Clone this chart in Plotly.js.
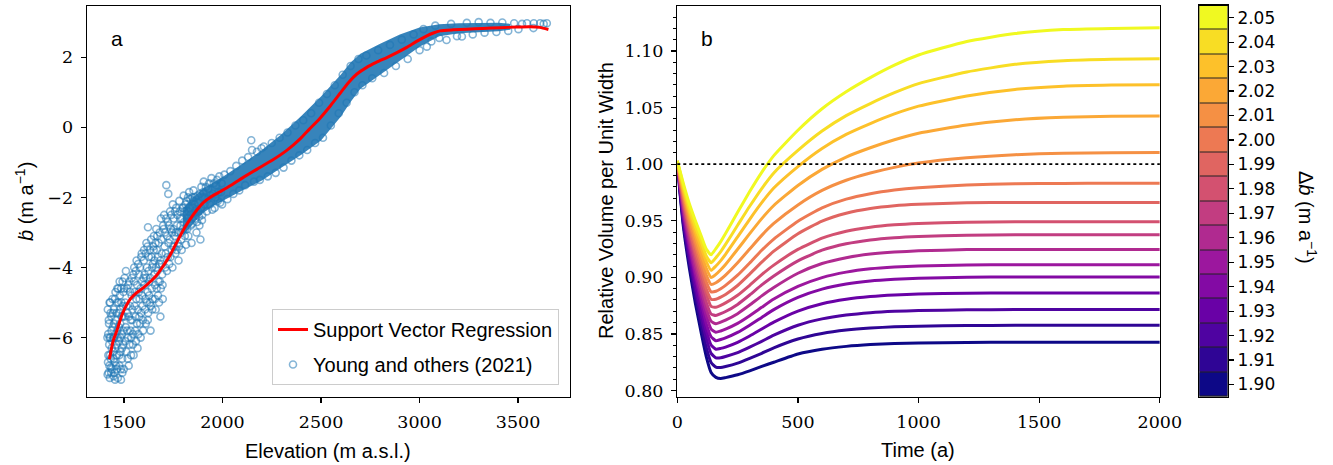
<!DOCTYPE html>
<html><head><meta charset="utf-8">
<script src="https://cdn.plot.ly/plotly-3.0.1.min.js"></script>
<style>html,body{margin:0;padding:0;background:#fff}#chart{width:1333px;height:465px}</style>
</head><body><div id="chart"></div>
<script>
// ---------- Panel a: surface mass balance vs elevation ----------
const svrElev = [1426,1445,1463,1490,1531,1565,1598,1640,1666,1700,1734,1768,1802,1836,1870,1904,1937,1990,2039,2100,2174,2250,2326,2394,2440,2495,2550,2597,2640,2682,2732,2780,2834,2885,2935,2985,3037,3070,3104,3170,3240,3320,3409,3490,3561,3610,3654];
const svrSmb  = [-6.62,-6.1,-5.82,-5.35,-4.91,-4.72,-4.58,-4.37,-4.22,-3.95,-3.65,-3.28,-2.92,-2.62,-2.36,-2.14,-2.0,-1.83,-1.67,-1.45,-1.2,-0.95,-0.66,-0.33,-0.06,0.26,0.63,0.97,1.28,1.52,1.71,1.85,1.99,2.13,2.28,2.45,2.61,2.69,2.75,2.78,2.80,2.82,2.84,2.86,2.87,2.85,2.79];

// dense core of the observation cloud (upper / lower edge)
const bandElev  = [1800,1850,1900,1950,2000,2100,2200,2300,2400,2500,2600,2650,2700,2800,2900,3000,3100,3200,3300,3400,3460];
const bandUpper = [-2.3,-2.0,-1.75,-1.58,-1.42,-1.05,-0.65,-0.2,0.32,0.88,1.5,1.85,2.1,2.38,2.65,2.85,2.94,2.97,2.98,2.98,2.95];
const bandLower = [-3.1,-2.75,-2.45,-2.25,-2.1,-1.8,-1.52,-1.15,-0.78,-0.38,0.3,0.72,1.1,1.5,1.9,2.3,2.6,2.68,2.72,2.74,2.78];

const obsElev = [
 1418,1420,1421,1422,1424,1425,1426,1428,1430,1431,1433,1435,1436,1438,1439,
 1416,1419,1423,1427,1429,1432,1434,1437,1440,1417,1427,
 1442,1444,1445,1447,1449,1451,1453,1455,1457,1459,1461,1463,1465,1467,1469,
 1443,1446,1448,1450,1452,1454,1456,1458,1460,1462,1464,1466,1468,
 1471,1473,1475,1477,1479,1481,1483,1485,1487,1489,1491,1493,1495,1497,1499,
 1472,1474,1476,1478,1480,1482,1484,1486,1488,1490,1492,1494,1496,1498,
 1503,1506,1509,1512,1515,1518,1521,1524,1527,1530,1533,1536,1539,1542,1545,1548,
 1501,1504,1507,1510,1513,1516,1519,1522,1525,1528,1531,1534,1537,1540,1543,1546,1549,
 1552,1555,1558,1561,1564,1567,1570,1573,1576,1579,1582,1585,1588,1591,1594,1597,
 1551,1554,1557,1560,1563,1566,1569,1572,1575,1578,1581,1584,1587,1590,1593,1596,1599,
 1602,1605,1608,1611,1614,1617,1620,1622,1623,1626,1629,1632,1635,1638,1641,1644,1647,
 1601,1604,1607,1610,1613,1616,1619,1621,1625,1628,1631,1634,1637,1640,1643,1646,1649,
 1652,1655,1658,1661,1664,1667,1670,1673,1676,1679,1682,1685,1688,1691,1694,1697,
 1651,1654,1657,1660,1663,1666,1669,1672,1675,1678,1681,1684,1687,1690,1693,1696,1699,
 1704,1708,1712,1715,1718,1722,1725,1726,1730,1734,1738,1742,1746,1748,
 1702,1706,1710,1714,1719,1723,1728,1732,1736,1740,1744,1749,
 1753,1757,1761,1765,1769,1773,1777,1781,1785,1789,1793,1797,
 1751,1755,1759,1763,1767,1771,1775,1779,1783,1787,1791,1795,1799,
 1803,1807,1811,1815,1819,1823,1827,1831,1835,1839,1843,1847,
 1801,1805,1809,1813,1817,1821,1825,1829,1833,1837,1841,1845,1849,
 1853,1858,1863,1868,1873,1878,1883,1888,1893,1897,
 1851,1856,1861,1866,1871,1876,1881,1886,1891,1896,1899,
 1905,1912,1920,1928,1936,1944,1952,1960,1968,1976,1984,1992,1998,
 1903,1909,1916,1924,1932,1940,1948,1956,1964,1972,1980,1988,1996,
 2010,2025,2040,2055,2070,2085,2100,2115,2130,2146,2150,2160,2175,2190,2198,
 2210,2230,2250,2270,2290,2310,2330,2350,2370,2390,2410,2430,2450,2470,2490,
 2510,2530,2550,2570,2590,2610,2630,2650,2670,2690,2710,2730,2760,2790,2820,2850,2880,2910,2940,2970,3000,
 3020,3037,3060,3080,3100,3137,3160,3190,3215,3240,3270,3300,3330,3360,3390,3420,3450,3480,3502,3520,3545,3578,3580,3612,3630,3646];
const obsSmb = [
 -5.2,-5.9,-6.5,-7.0,-5.6,-6.2,-6.8,-7.15,-5.0,-6.0,-6.6,-7.0,-5.4,-6.3,-6.9,
 -6.0,-6.7,-5.5,-6.0,-6.5,-5.3,-6.85,-5.8,-6.1,-7.05,-5.0,
 -4.9,-5.7,-6.4,-7.1,-5.2,-6.0,-6.7,-7.2,-4.7,-5.5,-6.2,-6.9,-5.0,-5.8,-7.15,
 -5.3,-6.0,-6.6,-5.6,-7.0,-4.9,-6.3,-5.9,-6.8,-5.3,-6.5,-4.6,-6.0,
 -4.6,-5.3,-6.1,-6.8,-4.8,-5.6,-6.4,-7.2,-5.0,-5.9,-6.6,-4.4,-5.4,-6.2,-6.9,
 -5.0,-5.7,-6.5,-4.4,-5.2,-6.0,-6.9,-4.6,-5.4,-6.3,-7.0,-5.1,-5.8,-4.7,
 -4.3,-5.0,-5.7,-6.4,-4.6,-5.3,-6.0,-6.8,-4.4,-5.1,-5.8,-6.5,-4.8,-5.5,-6.2,-4.2,
 -4.6,-5.4,-6.1,-4.1,-5.1,-5.8,-6.6,-4.5,-5.4,-6.2,-4.7,-5.5,-6.0,-4.3,-5.2,-5.9,-6.5,
 -4.0,-4.7,-5.4,-6.1,-3.8,-4.5,-5.2,-5.9,-4.2,-4.9,-5.6,-6.0,-3.7,-4.4,-5.1,-5.8,
 -4.4,-5.1,-5.8,-4.1,-4.9,-5.6,-6.3,-3.9,-4.7,-5.4,-4.0,-4.6,-5.3,-3.6,-4.8,-5.5,-4.3,
 -3.5,-4.2,-4.9,-5.6,-3.3,-4.0,-4.7,-2.85,-5.3,-3.7,-4.4,-5.0,-5.8,-3.2,-4.6,-5.2,-3.9,
 -3.8,-4.5,-5.2,-3.6,-4.3,-5.0,-3.4,-5.5,-4.1,-4.8,-3.5,-4.3,-5.1,-3.7,-4.0,-4.9,-3.4,
 -3.1,-3.8,-4.5,-5.2,-2.9,-3.5,-4.1,-4.8,-3.3,-3.9,-4.4,-5.4,-2.6,-3.6,-4.2,-4.9,
 -3.5,-4.2,-4.9,-3.3,-4.0,-4.6,-3.1,-3.7,-4.4,-5.0,-3.0,-3.8,-4.6,-3.2,-3.9,-4.5,-2.8,
 -2.5,-3.0,-3.6,-1.65,-4.1,-2.7,-1.9,-3.3,-3.9,-2.4,-2.9,-3.5,-4.0,-2.2,
 -2.9,-3.4,-4.0,-2.6,-3.1,-3.7,-2.8,-3.2,-3.7,-2.5,-3.0,-3.4,
 -2.6,-3.1,-3.6,-2.3,-2.8,-3.3,-3.8,-2.1,-2.6,-3.0,-3.5,-2.3,
 -2.9,-3.4,-2.4,-3.0,-3.5,-2.5,-3.0,-3.4,-2.4,-2.8,-3.2,-2.6,-2.9,
 -1.95,-2.4,-2.9,-3.35,-2.1,-2.6,-3.1,-1.85,-2.3,-2.8,-3.3,-2.0,
 -2.3,-2.7,-3.1,-2.2,-2.5,-2.9,-2.0,-2.4,-2.7,-2.05,-2.5,-2.75,-2.3,
 -1.8,-2.2,-2.6,-3.0,-1.95,-2.4,-2.8,-3.2,-1.7,-2.5,
 -2.1,-2.45,-2.0,-2.35,-2.7,-2.15,-2.55,-1.9,-2.3,-2.65,-2.0,
 -1.55,-2.0,-2.4,-1.75,-2.2,-1.45,-1.9,-2.3,-1.65,-2.1,-1.4,-1.85,-2.2,
 -1.85,-2.2,-1.7,-2.05,-1.6,-1.95,-2.35,-1.6,-2.0,-1.5,-1.85,-2.15,-1.6,
 -1.35,-2.05,-1.25,-1.9,-1.1,-1.8,-0.95,-1.65,-0.85,-0.37,-0.65,-1.55,-0.7,-1.5,-0.6,
 -0.55,-1.4,-0.45,-1.3,-0.3,-1.15,-0.15,-0.95,0.05,-0.8,0.2,-0.65,0.4,-0.45,0.7,
 -0.3,0.95,0.05,1.2,0.4,1.5,0.7,1.75,1.0,1.95,1.2,2.05,1.4,2.2,1.55,2.35,1.75,2.5,1.95,2.65,2.2,
 2.8,2.3,2.45,2.9,2.55,2.49,2.95,2.6,2.59,2.98,2.65,3.0,2.7,2.98,2.72,2.99,2.75,2.97,2.80,2.95,2.97,2.83,2.97,2.97,2.95,2.97];

// ---------- Panel b: relative volume per unit width ----------
const timeYears = [0,25,50,75,100,120,140,160,180,200,250,300,350,400,500,600,700,800,900,1000,1200,1400,1600,1800,2000];
const deltaB = [1.90,1.91,1.92,1.93,1.94,1.95,1.96,1.97,1.98,1.99,2.00,2.01,2.02,2.03,2.04,2.05];
const v190 = [1.000,.945,.908,.877,.850,.830,.8160,.8116,.8106,.8114,.8139,.8174,.8213,.8250,.8323,.8365,.8390,.8406,.8415,.8420,.8425,.8426,.8426,.8426,.8426];
const v191 = [1.000,.948,.913,.883,.857,.838,.8248,.8206,.8203,.8212,.8242,.8284,.8329,.8377,.8455,.8504,.8534,.8552,.8563,.8568,.8574,.8576,.8576,.8576,.8576];
const v192 = [1.000,.951,.917,.889,.864,.846,.8328,.8289,.8289,.8300,.8335,.8383,.8435,.8489,.8577,.8633,.8667,.8688,.8700,.8706,.8713,.8715,.8715,.8715,.8715];
const v193 = [1.001,.954,.922,.894,.870,.853,.8402,.8365,.8372,.8384,.8426,.8482,.8543,.8604,.8702,.8767,.8807,.8831,.8845,.8852,.8860,.8862,.8862,.8862,.8862];
const v194 = [1.001,.957,.926,.900,.877,.859,.8475,.8440,.8451,.8465,.8513,.8577,.8646,.8715,.8823,.8896,.8941,.8968,.8983,.8992,.9001,.9003,.9003,.9003,.9003];
const v195 = [1.001,.959,.929,.904,.882,.866,.8543,.8515,.8526,.8542,.8593,.8661,.8735,.8808,.8920,.8998,.9046,.9075,.9091,.9100,.9110,.9112,.9112,.9112,.9112];
const v196 = [1.001,.962,.933,.909,.888,.872,.8611,.8590,.8604,.8622,.8679,.8755,.8836,.8910,.9036,.9122,.9174,.9206,.9224,.9234,.9245,.9247,.9247,.9247,.9247];
const v197 = [1.002,.964,.937,.914,.894,.878,.8676,.8663,.8679,.8698,.8761,.8844,.8933,.9012,.9146,.9240,.9297,.9331,.9351,.9362,.9373,.9376,.9376,.9376,.9376];
const v198 = [1.002,.967,.941,.919,.899,.885,.8744,.8736,.8753,.8774,.8842,.8930,.9024,.9108,.9247,.9346,.9407,.9443,.9464,.9476,.9488,.9491,.9491,.9491,.9491];
const v199 = [1.002,.969,.944,.923,.905,.890,.8807,.8806,.8825,.8849,.8928,.9029,.9134,.9231,.9385,.9497,.9567,.9608,.9632,.9645,.9659,.9662,.9662,.9662,.9662];
const v200 = [1.002,.972,.948,.928,.910,.896,.8872,.8877,.8900,.8929,.9019,.9127,.9239,.9338,.9496,.9614,.9691,.9739,.9771,.9792,.9816,.9828,.9830,.9832,.9832];
const v201 = [1.002,.974,.951,.932,.915,.902,.8937,.8952,.8983,.9020,.9129,.9250,.9371,.9476,.9640,.9768,.9858,.9922,.9972,1.0010,1.0056,1.0084,1.0097,1.0101,1.0103];
const v202 = [1.002,.976,.955,.937,.920,.908,.8998,.9026,.9067,.9114,.9248,.9386,.9519,.9635,.9812,.9954,1.0063,1.0145,1.0216,1.0273,1.0346,1.0393,1.0415,1.0423,1.0426];
const v203 = [1.003,.978,.958,.941,.926,.914,.9062,.9100,.9148,.9204,.9358,.9513,.9660,.9789,.9979,1.0139,1.0263,1.0359,1.0444,1.0513,1.0603,1.0661,1.0689,1.0699,1.0703];
const v204 = [1.003,.981,.961,.945,.931,.919,.9128,.9174,.9228,.9291,.9460,.9628,.9785,.9923,1.0122,1.0293,1.0429,1.0536,1.0632,1.0712,1.0815,1.0883,1.0915,1.0928,1.0932];
const v205 = [1.003,.983,.965,.950,.936,.925,.9200,.9254,.9316,.9387,.9575,.9758,.9928,1.0076,1.030,1.049,1.064,1.0765,1.0875,1.0965,1.1085,1.1155,1.119,1.120,1.1205];
const volumes = [v190,v191,v192,v193,v194,v195,v196,v197,v198,v199,v200,v201,v202,v203,v204,v205];

// ---------- styling ----------
const plasma = [[0,'#0d0887'],[1/9,'#46039f'],[2/9,'#7201a8'],[3/9,'#9c179e'],[4/9,'#bd3786'],[5/9,'#d8576b'],[6/9,'#ed7953'],[7/9,'#fb9f3a'],[8/9,'#fdca26'],[1,'#f0f921']];
function hex2rgb(h){return [1,3,5].map(i=>parseInt(h.substr(i,2),16));}
function plasmaAt(t){
  for(let k=1;k<plasma.length;k++){
    if(t<=plasma[k][0]+1e-9){
      const a=plasma[k-1],b=plasma[k];const f=(t-a[0])/(b[0]-a[0]);
      const ca=hex2rgb(a[1]),cb=hex2rgb(b[1]);
      return 'rgb('+ca.map((c,j)=>Math.round(c+(cb[j]-c)*f)).join(',')+')';
    }
  }
  return plasma[plasma.length-1][1];
}
const bMin = deltaB[0], bMax = deltaB[deltaB.length-1];
const SERIF = "DejaVu Serif, serif";
const SANS = "Liberation Sans, DejaVu Sans, sans-serif";

const traces = [];
traces.push({x: bandElev.concat(bandElev.slice().reverse()), y: bandUpper.concat(bandLower.slice().reverse()),
  xaxis:'x', yaxis:'y', type:'scatter', mode:'lines', fill:'toself', fillcolor:'rgba(33,119,180,0.9)',
  line:{width:0}, showlegend:false, hoverinfo:'skip'});
traces.push({x: obsElev, y: obsSmb, xaxis:'x', yaxis:'y', type:'scatter', mode:'markers',
  name:'Young and others (2021)', legendrank:2, legendgroup:'g2',
  marker:{symbol:'circle-open', size:7, color:'rgba(31,119,180,0.55)', line:{width:1.6, color:'rgba(31,119,180,0.55)'}}});
traces.push({x: svrElev, y: svrSmb, xaxis:'x', yaxis:'y', type:'scatter', mode:'lines',
  name:'Support Vector Regression', legendrank:1, legendgroup:'g1',
  line:{color:'#ff0000', width:3, shape:'spline', smoothing:0.6}});

volumes.forEach((v,i)=>{
  traces.push({x: timeYears, y: v, xaxis:'x2', yaxis:'y2', type:'scatter', mode:'lines',
    line:{color: plasmaAt((deltaB[i]-bMin)/(bMax-bMin)), width:3, shape:'spline', smoothing:0.5},
    showlegend:false, hoverinfo:'skip'});
});

// discrete colour bar
traces.push({type:'heatmap', x:[0], y: deltaB, z: deltaB.map(v=>[v]), xaxis:'x3', yaxis:'y3',
  zmin:bMin, zmax:bMax, colorscale: plasma, showscale:false, ygap:1, hoverinfo:'skip'});

const H = 465, W = 1333;
const yDom = [1-396.5/H, 1-6/H];
const axBase = {showline:true, linecolor:'#000', linewidth:1.3, mirror:true, showgrid:false, zeroline:false,
  ticks:'outside', ticklen:5, tickwidth:1.2, tickcolor:'#000', ticklabelstandoff:4,
  tickfont:{family:SERIF, size:17.5, color:'#000'}};
function ann(text, x, y, angle, size){
  return {text:text, xref:'paper', yref:'paper', x:x/W, y:1-y/H, xanchor:'center', yanchor:'middle',
    textangle:angle||0, showarrow:false, font:{family:SANS, size:size||20, color:'#000'}};
}

const layout = {
  width:W, height:H, margin:{l:0,r:0,t:0,b:0}, paper_bgcolor:'#fff', plot_bgcolor:'#fff',
  showlegend:true,
  legend:{x:559/W, y:1-385/H, xanchor:'right', yanchor:'bottom', bgcolor:'rgba(255,255,255,0.9)',
    bordercolor:'#cccccc', borderwidth:1, font:{family:SANS, size:20, color:'#000'},
    traceorder:'grouped', tracegroupgap:6},
  xaxis: Object.assign({}, axBase, {domain:[86.9/W, 569.7/W], range:[1312,3762], dtick:500, tick0:0, anchor:'y'}),
  yaxis: Object.assign({}, axBase, {domain:yDom, range:[-7.68,3.46], dtick:2, tick0:0, anchor:'x'}),
  xaxis2: Object.assign({}, axBase, {domain:[677.3/W, 1159.8/W], range:[0,2000], dtick:500, tick0:0, anchor:'y2'}),
  yaxis2: Object.assign({}, axBase, {domain:yDom, range:[0.7947,1.1398], dtick:0.05, tick0:0, tickformat:'.2f', anchor:'x2',
    minor:{dtick:0.01, tick0:0, ticks:'outside', ticklen:3, tickwidth:1, tickcolor:'#000'}}),
  xaxis3: {domain:[1199.3/W, 1227.7/W], range:[-0.5,0.5], anchor:'y3', showline:true, linecolor:'#000', linewidth:1.3, mirror:true,
    showticklabels:false, ticks:'', showgrid:false, zeroline:false, fixedrange:true},
  yaxis3: {domain:[1-396.7/H, 1-5.5/H], range:[bMin-0.005, bMax+0.005], anchor:'x3', side:'right', showline:true, linecolor:'#000', linewidth:1.3, mirror:true,
    tickvals: deltaB, ticktext: deltaB.map(v=>v.toFixed(2)), ticks:'outside', ticklen:5, tickwidth:1.2, tickcolor:'#000',
    tickfont:{family:"DejaVu Sans, sans-serif", size:17, color:'#000'}, showgrid:false, zeroline:false},
  shapes:[
    {type:'rect', xref:'x3 domain', yref:'y3 domain', x0:0, x1:1, y0:0, y1:1, fillcolor:'#222', line:{width:0}, layer:'below'},
    {type:'line', xref:'x2 domain', yref:'y2', x0:0, x1:1, y0:1, y1:1, line:{color:'#000', width:1.8, dash:'dot'}}
  ],
  annotations:[
    ann('a', 117, 39, 0, 21),
    ann('b', 707, 38, 0, 21),
    ann('Elevation (m a.s.l.)', 328, 451),
    ann('<i>ḃ</i> (m a<sup>−1</sup>)', 25, 202, -90),
    ann('Time (a)', 918, 450),
    ann('Relative Volume per Unit Width', 606, 201, -90),
    ann('Δ<i>ḃ</i> (m a<sup>−1</sup>)', 1308, 217, 90)
  ]
};

Plotly.newPlot('chart', traces, layout, {displayModeBar:false, staticPlot:true});
</script></body></html>
